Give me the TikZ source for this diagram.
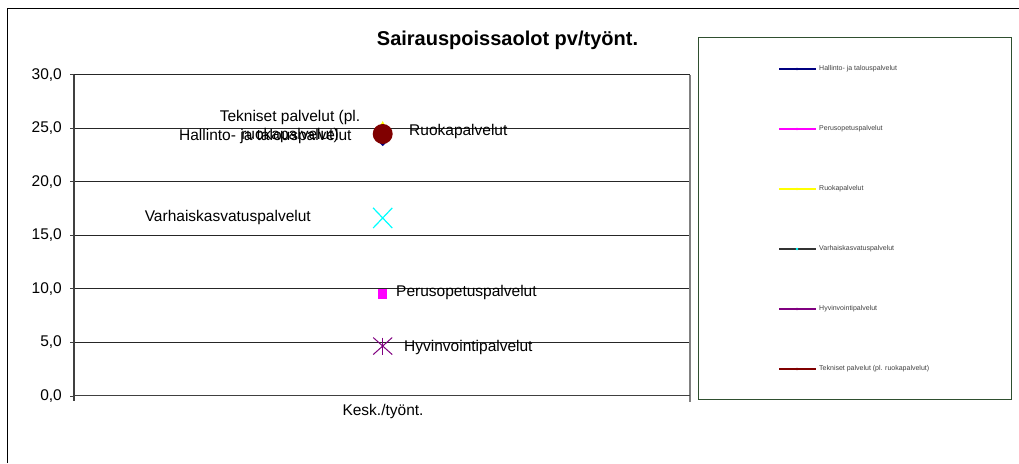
\documentclass[tikz,border=0pt]{standalone}
\usepackage{fontspec}
\setmainfont{Liberation Sans}
\usetikzlibrary{shapes.misc,shapes.geometric}
\definecolor{navy1}{HTML}{000080}
\definecolor{magenta1}{HTML}{FF00FF}
\definecolor{yellow1}{HTML}{FFFF00}
\definecolor{cyan1}{HTML}{00FFFF}
\definecolor{purple1}{HTML}{800080}
\definecolor{red1}{HTML}{800000}
\definecolor{dark1}{HTML}{333333}
\definecolor{green1}{HTML}{2F4F2F}

\begin{document}
\begin{tikzpicture}[x=1pt, y=1pt, align=center, font=\fontsize{15.5}{18}\selectfont,
  lbl/.style={inner sep=0pt},
  leg/.style={font=\fontsize{7}{8}\selectfont, text=black!75, inner sep=0pt, anchor=west}]
\useasboundingbox (0,0) rectangle (1019,463);
\draw[line width=1pt] (7,0) -- (7,454) -- (1019,454);
\node (title) at (507.5,423) {\fontsize{20}{24}\selectfont\bfseries Sairauspoissaolot pv/työnt.};
% plot area
\begin{scope}[shift={(74,67.3)}, y=10.7pt]
\foreach \v in {5,10,...,30} \draw[black!85, line width=0.8pt] (0,\v) -- (616,\v);
\draw[black!50, line width=1.2pt] (616,-0.55) -- (616,30);
\draw[black!75, line width=1.2pt] (0,30) -- (0,-0.45) (0,0) -- (616,0);
\foreach \v in {0,5,...,30} {
  \draw[black!75] (-4,\v) -- (0,\v);
  \node[lbl, anchor=east] (tick\v) at (-12,\v) {\v,0};
}
\node (xlbl) at (309,-1.43) {Kesk./työnt.};
% data
\node[regular polygon, regular polygon sides=3, fill=yellow1, minimum size=12pt, inner sep=0pt] (ruoka) at (308.7,25.1) {};
\node[diamond, fill=navy1, minimum size=6pt, inner sep=0pt] (hall) at (308.7,23.6) {};
\node[circle, fill=red1, minimum size=20pt, inner sep=0pt] (tekn) at (308.7,24.46) {};
\node[cross out, draw=cyan1, line width=1.2pt, minimum width=18pt, minimum height=19pt, inner sep=0pt] (varh) at (308.7,16.61) {};
\node[fill=magenta1, minimum size=9.5pt, inner sep=0pt] (peru) at (308.7,9.5) {};
\node[cross out, draw=purple1, line width=1pt, minimum width=18pt, minimum height=16pt, inner sep=0pt] (hyv) at (308.7,4.64) {};
\draw[purple1, line width=1pt] (hyv.north) -- (hyv.south);
% labels
\node[lbl] (tekn-l) at (216,25.17) {Tekniset palvelut (pl.\\ruokapalvelut)};
\node[lbl, anchor=east] (hall-l) at (277.7,24.21) {Hallinto- ja talouspalvelut};
\node[lbl, anchor=west] (ruoka-l) at (335,24.67) {Ruokapalvelut};
\node[lbl, anchor=east] (varh-l) at (237,16.7) {Varhaiskasvatuspalvelut};
\node[lbl, anchor=west] (peru-l) at (322,9.63) {Perusopetuspalvelut};
\node[lbl, anchor=west] (hyv-l) at (330,4.49) {Hyvinvointipalvelut};
\end{scope}
% legend
\draw[green1, line width=1pt] (698,64) rectangle (1011,425);
\foreach \y/\lc/\mc/\t [count=\i] in {394/navy1/navy1/Hallinto- ja talouspalvelut,
  334/magenta1/magenta1/Perusopetuspalvelut, 274/yellow1/yellow1/Ruokapalvelut,
  214/dark1/cyan1/Varhaiskasvatuspalvelut, 154/purple1/purple1/Hyvinvointipalvelut,
  94/red1/red1/Tekniset palvelut (pl. ruokapalvelut)} {
  \draw[\lc, line width=1.6pt] (779,\y) -- (816,\y);
  \fill[\mc] (797,\y) circle (1.4pt);
  \node[leg] (leg\i) at (819,\y) {\t};
}
\end{tikzpicture}
\end{document}
